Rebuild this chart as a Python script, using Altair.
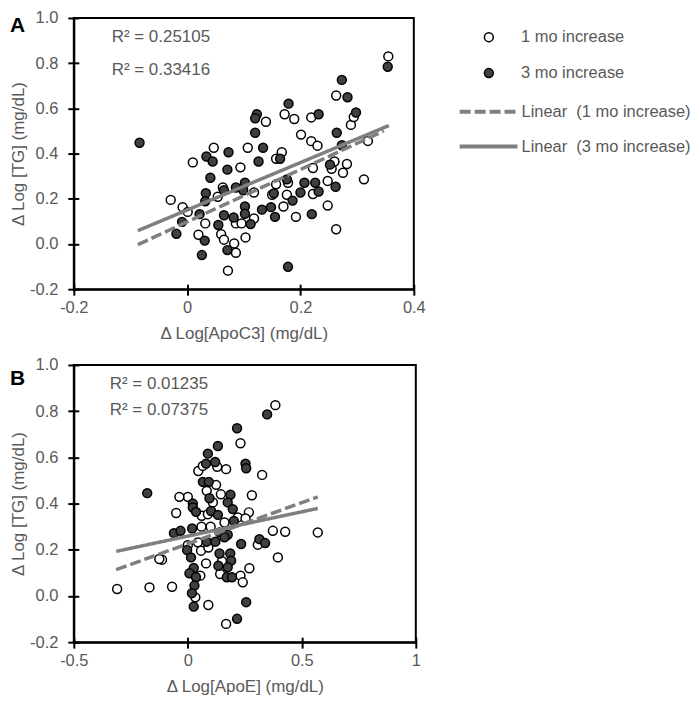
import altair as alt
import pandas as pd

# ---------------- data ----------------
series_pts = ["1 mo increase", "3 mo increase"]
series_lines = ["Linear\u00a0 (1 mo increase)", "Linear\u00a0 (3 mo increase)"]

# Panel A : Δ Log[ApoC3] vs Δ Log[TG]
a_open_x = [0.172, 0.139, 0.189, 0.219, 0.289, 0.294, 0.201, 0.219, 0.230, 0.319,
            0.047, 0.107, 0.167, 0.157, 0.010, 0.094, 0.222, 0.255, 0.260, 0.282,
            0.275, 0.312, 0.248, 0.063, 0.118, 0.157, 0.178, 0.150, 0.176, 0.222,
            0.054, -0.029, -0.008, 0.001, 0.170, 0.248, 0.118, 0.192, 0.032, 0.086,
            0.096, 0.020, 0.060, 0.065, 0.103, 0.263, 0.083, 0.086, 0.072, 0.355,
            0.263]
a_open_y = [0.574, 0.541, 0.553, 0.560, 0.527, 0.562, 0.484, 0.455, 0.435, 0.456,
            0.426, 0.426, 0.406, 0.377, 0.361, 0.339, 0.336, 0.333, 0.365, 0.354,
            0.315, 0.286, 0.279, 0.250, 0.228, 0.264, 0.271, 0.218, 0.218, 0.221,
            0.209, 0.195, 0.163, 0.142, 0.166, 0.170, 0.113, 0.120, 0.091, 0.091,
            0.091, 0.041, 0.043, 0.019, 0.029, 0.065, 0.002, -0.039, -0.118, 0.830,
            0.657]
a_fill_x = [-0.084, 0.123, 0.120, 0.232, 0.298, 0.120, 0.264, 0.273, 0.034, 0.045,
            0.073, 0.134, 0.126, 0.164, 0.071, 0.252, 0.041, 0.102, 0.176, 0.207,
            0.226, 0.262, 0.033, 0.065, 0.086, 0.099, 0.153, 0.200, 0.232, 0.032,
            0.102, 0.132, 0.148, 0.186, 0.022, 0.065, 0.082, 0.102, 0.155, 0.220,
            -0.009, 0.055, 0.112, -0.019, 0.031, 0.071, 0.026, 0.178, 0.354, 0.273,
            0.283, 0.179]
a_fill_y = [0.448, 0.574, 0.556, 0.574, 0.582, 0.492, 0.492, 0.437, 0.387, 0.365,
            0.406, 0.426, 0.365, 0.377, 0.329, 0.351, 0.293, 0.271, 0.286, 0.271,
            0.271, 0.253, 0.225, 0.238, 0.250, 0.238, 0.224, 0.228, 0.232, 0.189,
            0.166, 0.152, 0.163, 0.192, 0.132, 0.127, 0.117, 0.134, 0.120, 0.132,
            0.098, 0.084, 0.088, 0.045, 0.015, -0.027, -0.049, -0.101, 0.784, 0.726,
            0.649, 0.621]
a_trend1_x = [-0.087, 0.347]
a_trend1_y = [-0.003, 0.500]
a_trend3_x = [-0.087, 0.356]
a_trend3_y = [0.059, 0.524]
a_r2 = ["0.25105", "0.33416"]

# Panel B : Δ Log[ApoE] vs Δ Log[TG]
b_open_x = [0.384, 0.231, 0.326, 0.281, 0.168, 0.046, 0.129, 0.124, 0.083, 0.000,
            0.066, -0.037, -0.051, 0.110, 0.268, 0.061, 0.088, 0.161, 0.219, 0.253,
            0.373, 0.044, 0.000, 0.307, -0.113, 0.058, 0.090, 0.395, 0.080, 0.142,
            0.055, 0.231, 0.270, 0.241, -0.069, 0.033, 0.090, 0.168, -0.310, -0.168,
            -0.125, 0.427, 0.570, 0.145, 0.100, 0.060, 0.150]
b_open_y = [0.826, 0.661, 0.524, 0.436, 0.549, 0.541, 0.559, 0.481, 0.455, 0.429,
            0.563, 0.429, 0.359, 0.405, 0.362, 0.347, 0.354, 0.318, 0.340, 0.336,
            0.282, 0.232, 0.220, 0.222, 0.157, 0.196, 0.210, 0.167, 0.141, 0.095,
            0.088, 0.088, 0.120, 0.059, 0.040, -0.006, -0.039, -0.121, 0.030, 0.037,
            0.160, 0.278, 0.275, 0.440, 0.300, 0.300, 0.150]
b_fill_x = [0.348, 0.216, 0.132, 0.088, 0.080, 0.120, 0.253, 0.256, 0.066, 0.092,
            0.187, 0.095, 0.022, 0.022, 0.036, 0.175, 0.197, 0.102, 0.132, 0.202,
            0.019, -0.061, -0.032, 0.139, 0.175, 0.314, 0.339, 0.234, 0.083, 0.121,
            0.161, -0.003, 0.014, 0.139, 0.186, 0.190, 0.134, 0.175, 0.026, 0.007,
            0.036, 0.171, 0.194, 0.029, 0.018, 0.026, 0.256, 0.216, -0.178]
b_fill_y = [0.786, 0.726, 0.649, 0.616, 0.573, 0.580, 0.573, 0.553, 0.494, 0.494,
            0.438, 0.423, 0.400, 0.383, 0.364, 0.405, 0.376, 0.368, 0.351, 0.325,
            0.292, 0.272, 0.282, 0.275, 0.265, 0.246, 0.229, 0.225, 0.235, 0.235,
            0.254, 0.199, 0.167, 0.184, 0.184, 0.153, 0.131, 0.124, 0.121, 0.098,
            0.081, 0.081, 0.081, 0.045, 0.012, -0.046, -0.027, -0.099, 0.445]
b_trend1_x = [-0.314, 0.570]
b_trend1_y = [0.114, 0.429]
b_trend3_x = [-0.314, 0.570]
b_trend3_y = [0.193, 0.379]
b_r2 = ["0.01235", "0.07375"]

y_ticks = [-0.2, 0.0, 0.2, 0.4, 0.6, 0.8, 1.0]
a_x_ticks = [-0.2, 0.0, 0.2, 0.4]
b_x_ticks = [-0.5, 0.0, 0.5, 1.0]

GRAY_TXT = "#595959"
FONT = "Liberation Sans"


def panel(open_x, open_y, fill_x, fill_y, t1x, t1y, t3x, t3y, r2, xdom, xticks,
          xtitle, letter, legend, w, h, r2_y, r2_lh, r2_x, letter_y):
    pts = pd.DataFrame({
        "x": open_x + fill_x,
        "y": open_y + fill_y,
        "s": [series_pts[0]] * len(open_x) + [series_pts[1]] * len(fill_x),
    })
    lines = pd.DataFrame({
        "x": t1x + t3x,
        "y": t1y + t3y,
        "s": [series_lines[0]] * len(t1x) + [series_lines[1]] * len(t3x),
    })
    xs = alt.Scale(domain=xdom, nice=False, zero=False)
    ys = alt.Scale(domain=[-0.2, 1.0], nice=False, zero=False)
    xaxis = alt.Axis(values=xticks, title=xtitle, grid=False, labelFlush=False,
                     labelOverlap=False,
                     labelExpr="(datum.value < 0 ? '-' : '') + format(abs(datum.value), '~g')")
    yaxis = alt.Axis(values=y_ticks, title="\u0394 Log [TG] (mg/dL)", grid=False,
                     labelOverlap=False,
                     labelExpr="(datum.value < 0 ? '-' : '') + format(abs(datum.value), '.1f')")
    # inner half of the crossing tick marks
    xaxis_in = alt.Axis(values=xticks, orient="top", offset=-h, labels=False,
                        domain=False, title=None, grid=False, tickSize=5)
    yaxis_in = alt.Axis(values=y_ticks, orient="right", offset=-w, labels=False,
                        domain=False, title=None, grid=False, tickSize=5)

    pt_scale = alt.Scale(domain=series_pts, range=["white", "#404040"])
    ln_scale = alt.Scale(domain=series_lines, range=[[11, 4], [1, 0]])
    if legend:
        leg_pts = alt.Legend(title=None, orient="none", legendX=408, legendY=11,
                             symbolType="circle", symbolSize=80,
                             symbolStrokeColor="black", symbolStrokeWidth=1.5,
                             symbolOpacity=1, labelOffset=24, rowPadding=19,
                             labelFontSize=16.5, labelColor=GRAY_TXT, labelFont=FONT,
                             labelLimit=400, padding=0)
        leg_lines = alt.Legend(title=None, orient="none", legendX=404, legendY=82,
                               symbolType="M-3,0H3", symbolSize=374,
                               symbolStrokeColor="#7f7f7f", symbolStrokeWidth=4,
                               labelOffset=21, rowPadding=14,
                               labelFontSize=16.5, labelColor=GRAY_TXT, labelFont=FONT,
                               labelLimit=400, padding=0)
        fill_enc = alt.Fill("s:N", scale=pt_scale, sort=series_pts, legend=leg_pts)
        dash_enc = alt.StrokeDash("s:N", scale=ln_scale, sort=series_lines, legend=leg_lines)
    else:
        fill_enc = alt.Fill("s:N", scale=pt_scale, sort=series_pts, legend=None)
        dash_enc = alt.StrokeDash("s:N", scale=ln_scale, sort=series_lines, legend=None)

    points = alt.Chart(pts).mark_circle(size=80, stroke="black", strokeWidth=1.5,
                                        opacity=1).encode(
        x=alt.X("x:Q", scale=xs, axis=xaxis),
        y=alt.Y("y:Q", scale=ys, axis=yaxis),
        fill=fill_enc,
    )
    trend = alt.Chart(lines).mark_line(color="#7f7f7f", strokeWidth=3.5,
                                       strokeCap="butt").encode(
        x=alt.X("x:Q", scale=xs, axis=xaxis_in),
        y=alt.Y("y:Q", scale=ys, axis=yaxis_in),
        strokeDash=dash_enc,
    )
    r2_text = "\n".join("R\u00b2 = " + v for v in r2)
    r2_mark = alt.Chart(pd.DataFrame({"t": [r2_text]})).mark_text(
        align="left", baseline="top", fontSize=17, font=FONT, color=GRAY_TXT,
        lineBreak="\n", lineHeight=r2_lh).encode(
        text="t:N", x=alt.value(r2_x), y=alt.value(r2_y))
    letter_mark = alt.Chart(pd.DataFrame({"t": [letter]})).mark_text(
        align="left", baseline="alphabetic", fontSize=21, font=FONT,
        fontWeight="bold", color="black").encode(
        text="t:N", x=alt.value(-64), y=alt.value(letter_y))
    return alt.layer(points, trend, r2_mark, letter_mark).resolve_axis(
        x="independent", y="independent").properties(width=w, height=h)


chart_a = panel(a_open_x, a_open_y, a_fill_x, a_fill_y, a_trend1_x, a_trend1_y,
                a_trend3_x, a_trend3_y, a_r2, [-0.2, 0.4], a_x_ticks,
                "\u0394 Log[ApoC3] (mg/dL)", "A", True, 341, 272, 11, 33, 38, 14)
chart_b = panel(b_open_x, b_open_y, b_fill_x, b_fill_y, b_trend1_x, b_trend1_y,
                b_trend3_x, b_trend3_y, b_r2, [-0.5, 1.0], b_x_ticks,
                "\u0394 Log[ApoE] (mg/dL)", "B", False, 343, 278, 11, 26, 36, 20)

chart = alt.vconcat(chart_a, chart_b, spacing=13).resolve_scale(
    fill="independent", strokeDash="independent"
).resolve_legend(
    fill="independent", strokeDash="independent"
).properties(
    padding={"left": 0, "top": 0, "right": 0, "bottom": 0},
    background="white",
).configure_view(
    stroke="black", strokeWidth=2
).configure_axis(
    domainColor="black", domainWidth=2, tickColor="black", tickWidth=2, tickSize=6,
    labelFont=FONT, labelFontSize=16.5, labelColor=GRAY_TXT,
    titleFont=FONT, titleFontSize=17, titleColor=GRAY_TXT, titleFontWeight="normal",
).configure_axisX(
    labelPadding=4, titlePadding=10
).configure_axisY(
    labelPadding=10, titlePadding=2
)

chart.save("out.html", embed_options={"renderer": "svg", "actions": False})
